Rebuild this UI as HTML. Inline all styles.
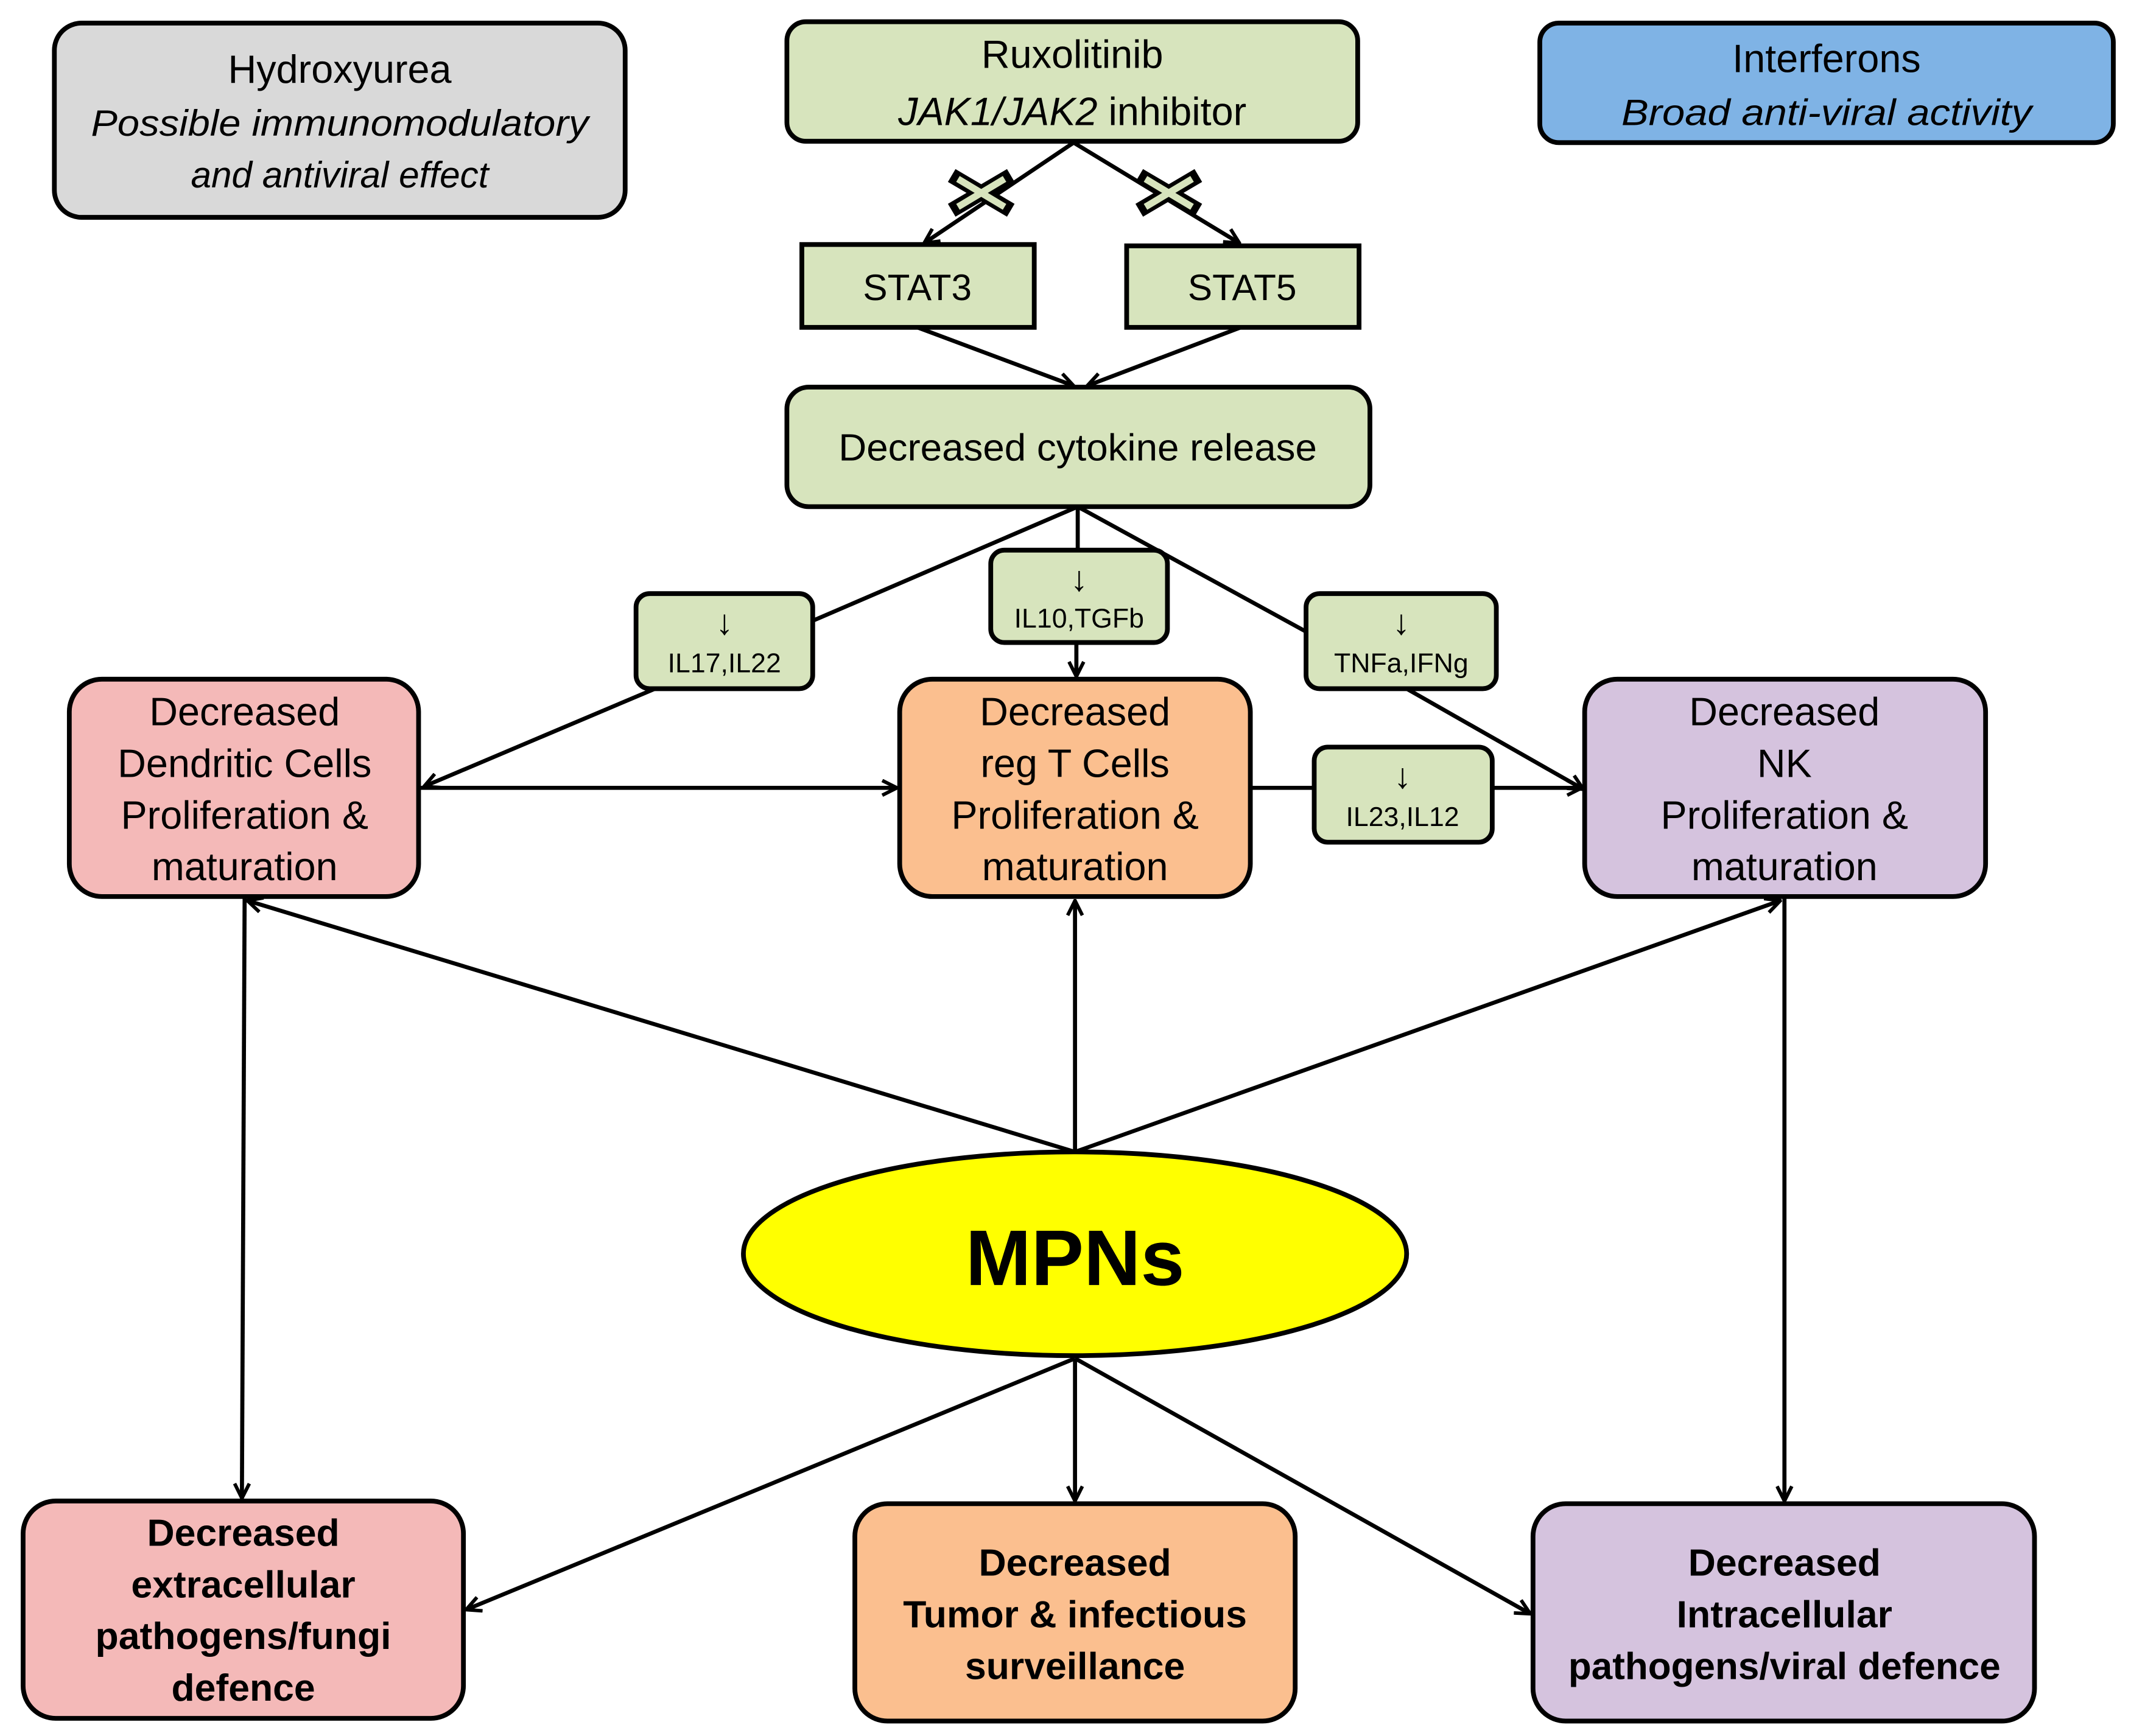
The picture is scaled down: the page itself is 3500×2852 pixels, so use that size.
<!DOCTYPE html>
<html><head><meta charset="utf-8"><style>
html,body{margin:0;padding:0;background:#fff;}
svg{display:block;}
text{font-family:"Liberation Sans",sans-serif;text-anchor:middle;fill:#000;}
</style></head><body>
<svg width="3500" height="2852" viewBox="0 0 1568 1278" preserveAspectRatio="none" xmlns="http://www.w3.org/2000/svg">
<defs>
<marker id="a" viewBox="0 0 12 12" refX="11" refY="6" markerWidth="13" markerHeight="13" markerUnits="userSpaceOnUse" orient="auto">
<path d="M1,1 L11,6 L1,11" fill="none" stroke="#000" stroke-width="2.4"/>
</marker>
</defs>
<g stroke="#000" stroke-width="3" fill="none">
<line x1="790" y1="105" x2="680" y2="179" marker-end="url(#a)"/>
<line x1="790" y1="105" x2="912" y2="179" marker-end="url(#a)"/>
<line x1="675" y1="241" x2="790" y2="284" marker-end="url(#a)"/>
<line x1="913" y1="241" x2="800" y2="284" marker-end="url(#a)"/>
<line x1="793" y1="373" x2="598" y2="457"/>
<line x1="793" y1="373" x2="793" y2="405"/>
<line x1="793" y1="373" x2="961" y2="465"/>
<line x1="482" y1="507" x2="312" y2="579" marker-end="url(#a)"/>
<line x1="792" y1="473" x2="792" y2="498" marker-end="url(#a)"/>
<line x1="1035" y1="507" x2="1165" y2="581" marker-end="url(#a)"/>
<line x1="308" y1="580" x2="660" y2="580" marker-end="url(#a)"/>
<line x1="920" y1="580" x2="967" y2="580"/>
<line x1="1098" y1="580" x2="1164" y2="580" marker-end="url(#a)"/>
<line x1="791" y1="848" x2="182" y2="663" marker-end="url(#a)"/>
<line x1="791" y1="848" x2="791" y2="663" marker-end="url(#a)"/>
<line x1="791" y1="848" x2="1310" y2="663" marker-end="url(#a)"/>
<line x1="180" y1="660" x2="178" y2="1103" marker-end="url(#a)"/>
<line x1="1313" y1="660" x2="1313" y2="1105" marker-end="url(#a)"/>
<line x1="791" y1="1000" x2="343" y2="1185" marker-end="url(#a)"/>
<line x1="791" y1="1000" x2="791" y2="1105" marker-end="url(#a)"/>
<line x1="791" y1="1000" x2="1126" y2="1188" marker-end="url(#a)"/>
</g>
<g stroke-linecap="square">
<g transform="translate(722,142)"><path d="M-17,-10 L17,10 M-17,10 L17,-10" stroke="#000" stroke-width="11"/><path d="M-15,-9 L15,9 M-15,9 L15,-9" stroke="#d7e4bd" stroke-width="5"/></g>
<g transform="translate(860,142)"><path d="M-17,-10 L17,10 M-17,10 L17,-10" stroke="#000" stroke-width="11"/><path d="M-15,-9 L15,9 M-15,9 L15,-9" stroke="#d7e4bd" stroke-width="5"/></g>
</g>
<g stroke="#000" stroke-width="3.5">
<rect x="40" y="17" width="420" height="143" rx="20" fill="#d9d9d9"/>
<rect x="579" y="16" width="420" height="88" rx="14" fill="#d7e4bd"/>
<rect x="1133" y="17" width="422" height="88" rx="14" fill="#7fb3e5"/>
<rect x="590" y="180" width="171" height="61" fill="#d7e4bd"/>
<rect x="829" y="181" width="171" height="60" fill="#d7e4bd"/>
<rect x="579" y="285" width="429" height="88" rx="16" fill="#d7e4bd"/>
<rect x="468" y="437" width="130" height="70" rx="10" fill="#d7e4bd"/>
<rect x="729" y="405" width="130" height="68" rx="10" fill="#d7e4bd"/>
<rect x="961" y="437" width="140" height="70" rx="10" fill="#d7e4bd"/>
<rect x="967" y="550" width="131" height="70" rx="10" fill="#d7e4bd"/>
<rect x="51" y="500" width="257" height="160" rx="24" fill="#f4b9b8"/>
<rect x="662" y="500" width="258" height="160" rx="24" fill="#fbbf8f"/>
<rect x="1166" y="500" width="295" height="160" rx="24" fill="#d5c3de"/>
<ellipse cx="791" cy="923" rx="244" ry="75" fill="#ffff00"/>
<rect x="17" y="1105" width="324" height="160" rx="24" fill="#f4b9b8"/>
<rect x="629" y="1107" width="324" height="160" rx="24" fill="#fbbf8f"/>
<rect x="1128" y="1107" width="369" height="160" rx="24" fill="#d5c3de"/>
</g>
<g font-size="29">
<text x="250" y="61">Hydroxyurea</text>
<text x="250" y="100" font-style="italic" font-size="27" textLength="366" lengthAdjust="spacingAndGlyphs">Possible immunomodulatory</text>
<text x="250" y="138" font-style="italic" font-size="27">and antiviral effect</text>
<text x="789" y="50">Ruxolitinib</text>
<text x="789" y="92"><tspan font-style="italic">JAK1/JAK2</tspan> inhibitor</text>
<text x="1344" y="53">Interferons</text>
<text x="1344" y="92" font-style="italic" font-size="27" textLength="302" lengthAdjust="spacingAndGlyphs">Broad anti-viral activity</text>
<text x="675" y="221" font-size="27">STAT3</text>
<text x="914" y="221" font-size="27">STAT5</text>
<text x="793" y="339" font-size="28" textLength="352" lengthAdjust="spacingAndGlyphs">Decreased cytokine release</text>
<text x="180" y="534">Decreased</text>
<text x="180" y="572">Dendritic Cells</text>
<text x="180" y="610">Proliferation &amp;</text>
<text x="180" y="648">maturation</text>
<text x="791" y="534">Decreased</text>
<text x="791" y="572">reg T Cells</text>
<text x="791" y="610">Proliferation &amp;</text>
<text x="791" y="648">maturation</text>
<text x="1313" y="534">Decreased</text>
<text x="1313" y="572">NK</text>
<text x="1313" y="610">Proliferation &amp;</text>
<text x="1313" y="648">maturation</text>
<text x="791" y="946" font-size="58" font-weight="bold">MPNs</text>
</g>
<g font-size="20">
<text x="533" y="467" font-size="26">↓</text><text x="533" y="495">IL17,IL22</text>
<text x="794" y="435" font-size="26">↓</text><text x="794" y="462">IL10,TGFb</text>
<text x="1031" y="467" font-size="26">↓</text><text x="1031" y="495">TNFa,IFNg</text>
<text x="1032" y="580" font-size="26">↓</text><text x="1032" y="608">IL23,IL12</text>
</g>
<g font-size="28" font-weight="bold">
<text x="179" y="1138">Decreased</text>
<text x="179" y="1176">extracellular</text>
<text x="179" y="1214">pathogens/fungi</text>
<text x="179" y="1252">defence</text>
<text x="791" y="1160">Decreased</text>
<text x="791" y="1198">Tumor &amp; infectious</text>
<text x="791" y="1236">surveillance</text>
<text x="1313" y="1160">Decreased</text>
<text x="1313" y="1198">Intracellular</text>
<text x="1313" y="1236" textLength="318" lengthAdjust="spacingAndGlyphs">pathogens/viral defence</text>
</g>
</svg>
</body></html>
